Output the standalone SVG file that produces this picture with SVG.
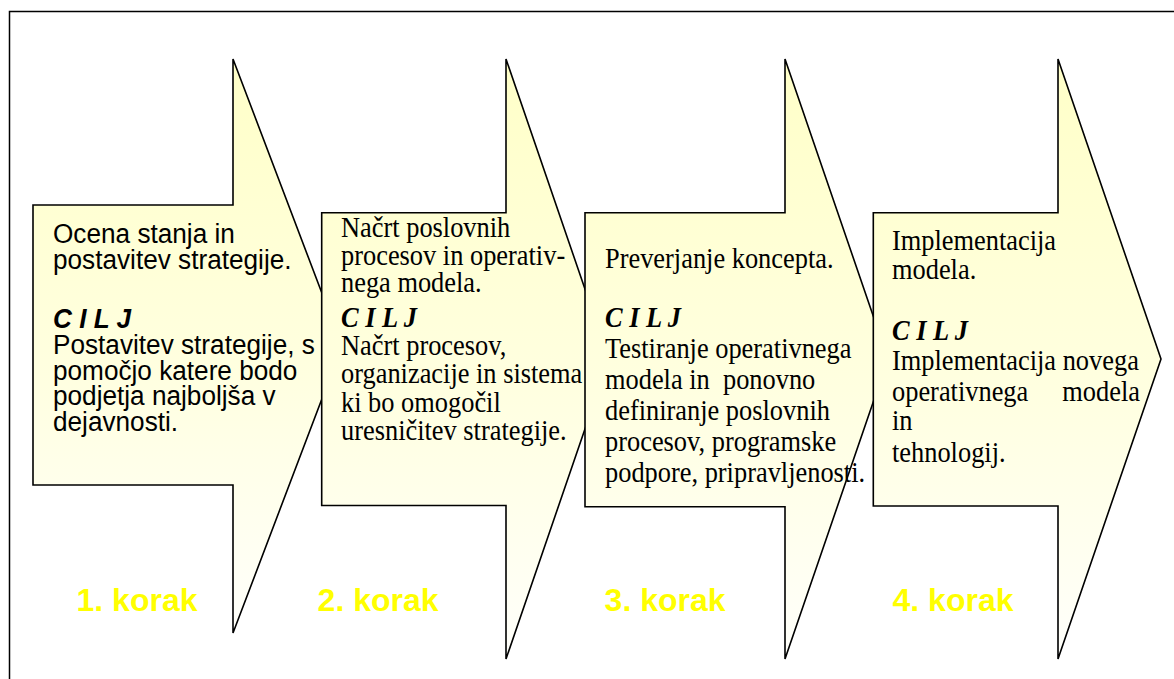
<svg xmlns="http://www.w3.org/2000/svg" width="1174" height="679" viewBox="0 0 1174 679">
  <style>
    .frame { fill: none; stroke: #000; stroke-width: 1.5; }
    .arrow { fill: url(#paleYellow); stroke: #000; stroke-width: 1.6; stroke-linejoin: miter; }
    .sans { font-family: "Liberation Sans", Arial, sans-serif; font-size: 27px; fill: #000; }
    .serif { font-family: "Liberation Serif", "Times New Roman", serif; font-size: 29px; fill: #000; white-space: pre; }
    .goal { font-weight: bold; font-style: italic; }
    .step { font-family: "Liberation Sans", Arial, sans-serif; font-size: 32px; font-weight: bold; fill: #FFFF00; }
  </style>
  <defs>
    <linearGradient id="paleYellow" x1="0" y1="0" x2="0" y2="1">
      <stop offset="0" stop-color="#FFFFC8"/>
      <stop offset="0.55" stop-color="#FFFFE0"/>
      <stop offset="1" stop-color="#FFFFFB"/>
    </linearGradient>
  </defs>

  <rect width="1174" height="679" fill="#fff"/>
  <rect class="frame" x="9.5" y="11.5" width="1180" height="700"/>

  <!-- step 1: text blocks are set slightly condensed -->
  <g id="step1">
    <polygon class="arrow" points="33,205 233,205 233,59 342,346 233,633 233,485 33,485"/>
    <g transform="translate(53,0) scale(0.97,1)">
      <text class="sans" x="0" y="243">Ocena stanja in</text>
      <text class="sans" x="0" y="269">postavitev strategije.</text>
      <text class="sans goal" x="0" y="328">C I L J</text>
      <text class="sans" x="0" y="354">Postavitev strategije, s</text>
      <text class="sans" x="0" y="380">pomočjo katere bodo</text>
      <text class="sans" x="0" y="405">podjetja najboljša v</text>
      <text class="sans" x="0" y="431">dejavnosti.</text>
    </g>
    <text class="step" x="76.5" y="611">1. korak</text>
  </g>

  <!-- step 2 -->
  <g id="step2">
    <polygon class="arrow" points="321.7,212.7 506,212.7 506,59 609,359 506,659 506,505.5 321.7,505.5"/>
    <g transform="translate(341,0) scale(0.91,1)">
      <text class="serif" x="0" y="237">Načrt poslovnih</text>
      <text class="serif" x="0" y="265">procesov in operativ-</text>
      <text class="serif" x="0" y="292">nega modela.</text>
      <text class="serif goal" x="0" y="327">C I L J</text>
      <text class="serif" x="0" y="355">Načrt procesov,</text>
      <text class="serif" x="0" y="383">organizacije in sistema</text>
      <text class="serif" x="0" y="412">ki bo omogočil</text>
      <text class="serif" x="0" y="440">uresničitev strategije.</text>
    </g>
    <text class="step" x="317.6" y="611">2. korak</text>
  </g>

  <!-- step 3 -->
  <g id="step3">
    <polygon class="arrow" points="585,212.7 785,212.7 785,59 888,359 785,659 785,506.7 585,506.7"/>
    <g transform="translate(605,0) scale(0.91,1)">
      <text class="serif" x="0" y="268">Preverjanje koncepta.</text>
      <text class="serif goal" x="0" y="327">C I L J</text>
      <text class="serif" x="0" y="358">Testiranje operativnega</text>
      <text class="serif" x="0" y="389">modela in  ponovno</text>
      <text class="serif" x="0" y="420">definiranje poslovnih</text>
      <text class="serif" x="0" y="451">procesov, programske</text>
      <text class="serif" x="0" y="482">podpore, pripravljenosti.</text>
    </g>
    <text class="step" x="604.6" y="611">3. korak</text>
  </g>

  <!-- step 4 -->
  <g id="step4">
    <polygon class="arrow" points="873.3,212.7 1058,212.7 1058,59 1161,359 1058,659 1058,506 873.3,506"/>
    <g transform="translate(892,0) scale(0.91,1)">
      <text class="serif" x="0" y="250">Implementacija</text>
      <text class="serif" x="0" y="279">modela.</text>
      <text class="serif goal" x="0" y="340">C I L J</text>
      <text class="serif" x="0" y="370">Implementacija novega</text>
      <text class="serif" x="0" y="401">operativnega</text>
      <text class="serif" x="272.5" y="401" text-anchor="end">modela</text>
      <text class="serif" x="0" y="430">in</text>
      <text class="serif" x="0" y="462">tehnologij.</text>
    </g>
    <text class="step" x="892.5" y="611">4. korak</text>
  </g>

  <g id="connectors"/>
</svg>
